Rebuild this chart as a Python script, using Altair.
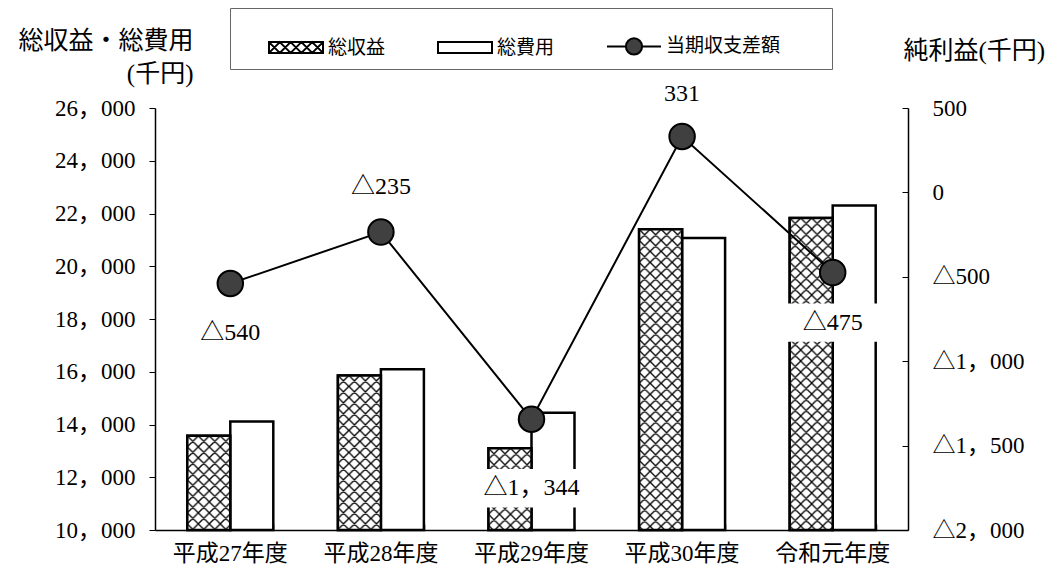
import base64
import altair as alt
import pandas as pd

# ---------------- data ----------------
CATEGORIES = ["平成27年度", "平成28年度", "平成29年度", "平成30年度", "令和元年度"]
REVENUE = [13570, 15860, 13100, 21400, 21830]   # 総収益 (千円)
EXPENSE = [14110, 16095, 14444, 21069, 22305]   # 総費用 (千円)
NET = [-540, -235, -1344, 331, -475]            # 当期収支差額 (千円)
SERIES = ["総収益", "総費用", "当期収支差額"]
LEFT_TICKS = [10000, 12000, 14000, 16000, 18000, 20000, 22000, 24000, 26000]
RIGHT_TICKS = [500, 0, -500, -1000, -1500, -2000]
LEFT_TITLE = ["総収益・総費用", "(千円)"]
RIGHT_TITLE = "純利益(千円)"

# ---------------- style ----------------
FONT = "Liberation Serif, Noto Sans CJK JP"
W, H = 753, 422
# pixel offset of each data label from its marker
LABEL_DY = {"平成27年度": 49, "平成28年度": -45, "平成29年度": 69,
            "平成30年度": -43, "令和元年度": 50}

hatch_svg = (
    "<svg xmlns='http://www.w3.org/2000/svg' width='100%' height='100%'>"
    "<defs><pattern id='h' width='11' height='11' patternUnits='userSpaceOnUse'>"
    "<rect width='11' height='11' fill='white'/>"
    "<path d='M0,0L11,11M11,0L0,11M-1,10L1,12M10,-1L12,1M-1,1L1,-1M10,12L12,10' "
    "stroke='black' stroke-width='1.3'/>"
    "</pattern></defs><rect width='100%' height='100%' fill='url(#h)'/></svg>"
)
HATCH_URI = "data:image/svg+xml;base64," + base64.b64encode(hatch_svg.encode()).decode()

HATCH_PATH = ("M-1,-0.2H1V0.2H-1Z"
              "M-1,-0.2L-0.6,0.2L-0.2,-0.2L0.2,0.2L0.6,-0.2L1,0.2"
              "M-1,0.2L-0.6,-0.2L-0.2,0.2L0.2,-0.2L0.6,0.2L1,-0.2")
RECT_PATH = "M-1,-0.2H1V0.2H-1Z"
LINE_PATH = ("M6.8,0M-1,0H-0.3M0.3,0H1"
             "M0.3,0A0.3,0.3 0 1,1 -0.3,0A0.3,0.3 0 1,1 0.3,0Z")
BOX_PATH = "M-1,-0.4H1V0.4H-1Z"

NUM_FMT = "replace(format({v}, ','), ',', '，')"

bars_df = pd.DataFrame({
    "category": CATEGORIES * 2,
    "series": [SERIES[0]] * len(CATEGORIES) + [SERIES[1]] * len(CATEGORIES),
    "value": REVENUE + EXPENSE,
})
net_df = pd.DataFrame({"category": CATEGORIES, "net": NET})
legend_df = pd.DataFrame({"series": SERIES})

x_scale = alt.Scale(domain=CATEGORIES, paddingInner=0.429, paddingOuter=0.2145)
xoff = alt.XOffset("series:N", scale=alt.Scale(domain=SERIES[:2], paddingInner=0, paddingOuter=0))
y_left_scale = alt.Scale(domain=[10000, 26000], zero=False, nice=False)
y_right_scale = alt.Scale(domain=[-2000, 500], zero=False, nice=False)

x_bottom = alt.X("category:N", scale=x_scale, title=None,
                 axis=alt.Axis(orient="bottom", labelAngle=0, ticks=False, labelPadding=12,
                               domainColor="black", domainWidth=1.5, grid=False))
x_ticks = alt.X("category:N", scale=x_scale, title=None,
                axis=alt.Axis(orient="top", offset=-H, labels=False, domain=False, ticks=True,
                              tickSize=6, tickBand="extent", tickColor="black", tickWidth=1.5,
                              grid=False))
x_plain = alt.X("category:N", scale=x_scale, axis=None)

y_left = alt.Y("value:Q", scale=y_left_scale,
               axis=alt.Axis(orient="left", values=LEFT_TICKS,
                             labelExpr=NUM_FMT.format(v="datum.value"),
                             tickSize=6, labelPadding=14, domainColor="black", domainWidth=1.5,
                             tickColor="black", grid=False, title=LEFT_TITLE, titleAngle=0,
                             titleAlign="right", titleBaseline="top", titleX=38, titleY=-80,
                             titleLineHeight=33))
y_left_plain = alt.Y("value:Q", scale=y_left_scale, axis=None)

y_right = alt.Y("net:Q", scale=y_right_scale,
                axis=alt.Axis(orient="left", offset=-W, values=RIGHT_TICKS,
                              labelExpr="datum.value < 0 ? '△' + " + NUM_FMT.format(v="-datum.value")
                                        + " : " + NUM_FMT.format(v="datum.value"),
                              labelAlign="left", labelPadding=-30, tickSize=6,
                              domainColor="black", domainWidth=1.5, tickColor="black",
                              grid=False, title=RIGHT_TITLE, titleAngle=0, titleAlign="left",
                              titleBaseline="top", titleX=-5, titleY=-70))
y_right_plain = alt.Y("net:Q", scale=y_right_scale, axis=None)

layers = []
layers.append(alt.Chart(bars_df).mark_bar(fill="white", stroke="black", strokeWidth=2.5).encode(
    x=x_bottom, xOffset=xoff, y=y_left, y2=alt.datum(10000)))
layers.append(alt.Chart(bars_df).transform_filter(alt.datum.series == SERIES[0]).mark_image(
    aspect=False).encode(x=x_plain, xOffset=xoff, y=y_left_plain, y2=alt.datum(10000),
                         url=alt.value(HATCH_URI)))
layers.append(alt.Chart(bars_df).transform_filter(alt.datum.series == SERIES[0]).mark_bar(
    fill="transparent", stroke="black", strokeWidth=2.5).encode(
    x=x_ticks, xOffset=xoff, y=y_left_plain, y2=alt.datum(10000)))

label_expr = ("datum.net < 0 ? '△' + " + NUM_FMT.format(v="-datum.net")
              + " : " + NUM_FMT.format(v="datum.net"))
dy_groups = {}
for cat, dy in LABEL_DY.items():
    dy_groups.setdefault(dy, []).append(cat)

# white label backgrounds
for dy, cats in dy_groups.items():
    layers.append(alt.Chart(net_df).transform_filter(
        alt.FieldOneOfPredicate(field="category", oneOf=cats)).mark_point(
        shape=BOX_PATH, size=9216, filled=True, fill="white", strokeWidth=0, opacity=1,
        yOffset=dy).encode(x=x_plain, y=y_right_plain))

layers.append(alt.Chart(net_df).mark_line(color="black", strokeWidth=2).encode(
    x=x_plain, y=y_right))
layers.append(alt.Chart(net_df).mark_point(shape="circle", size=650, filled=True, fill="#404040",
                                           stroke="black", strokeWidth=2, opacity=1).encode(
    x=x_plain, y=y_right_plain))

for dy, cats in dy_groups.items():
    layers.append(alt.Chart(net_df).transform_filter(
        alt.FieldOneOfPredicate(field="category", oneOf=cats)).transform_calculate(
        label=label_expr).mark_text(font=FONT, fontSize=24, color="black", yOffset=dy).encode(
        x=x_plain, y=y_right_plain, text="label:N"))

leg = alt.Legend(orient="none", legendX=75, legendY=-100, direction="horizontal",
                 title=" ", titleOrient="left", titlePadding=28, padding=10,
                 columnPadding=48, labelOffset=4, symbolSize=2916, symbolStrokeWidth=2,
                 strokeColor="#666666", fillColor="white", labelFontSize=19,
                 labelFont=FONT, labelColor="black")
layers.append(alt.Chart(legend_df).transform_filter("false").mark_point(
    filled=True, opacity=1).encode(
    fill=alt.Fill("series:N", scale=alt.Scale(domain=SERIES, range=["white", "white", "#404040"]),
                  legend=leg, title=" "),
    shape=alt.Shape("series:N", scale=alt.Scale(domain=SERIES, range=[HATCH_PATH, RECT_PATH, LINE_PATH]),
                    legend=leg, title=" "),
    stroke=alt.Stroke("series:N", scale=alt.Scale(domain=SERIES, range=["black", "black", "black"]),
                      legend=leg, title=" "),
))

chart = alt.layer(*layers).resolve_scale(y="independent").resolve_axis(
    y="independent", x="independent"
).properties(
    width=W, height=H,
    autosize=alt.AutoSizeParams(type="none"),
    padding={"left": 155, "top": 108, "right": 150, "bottom": 38},
    background="white",
).configure_view(strokeWidth=0).configure_axis(
    labelFont=FONT, labelFontSize=23, labelColor="black",
    titleFont=FONT, titleFontSize=25, titleFontWeight="normal", titleColor="black",
).configure_legend(titleFontSize=4)

chart.save("out.html", embed_options={"renderer": "svg", "actions": False})
